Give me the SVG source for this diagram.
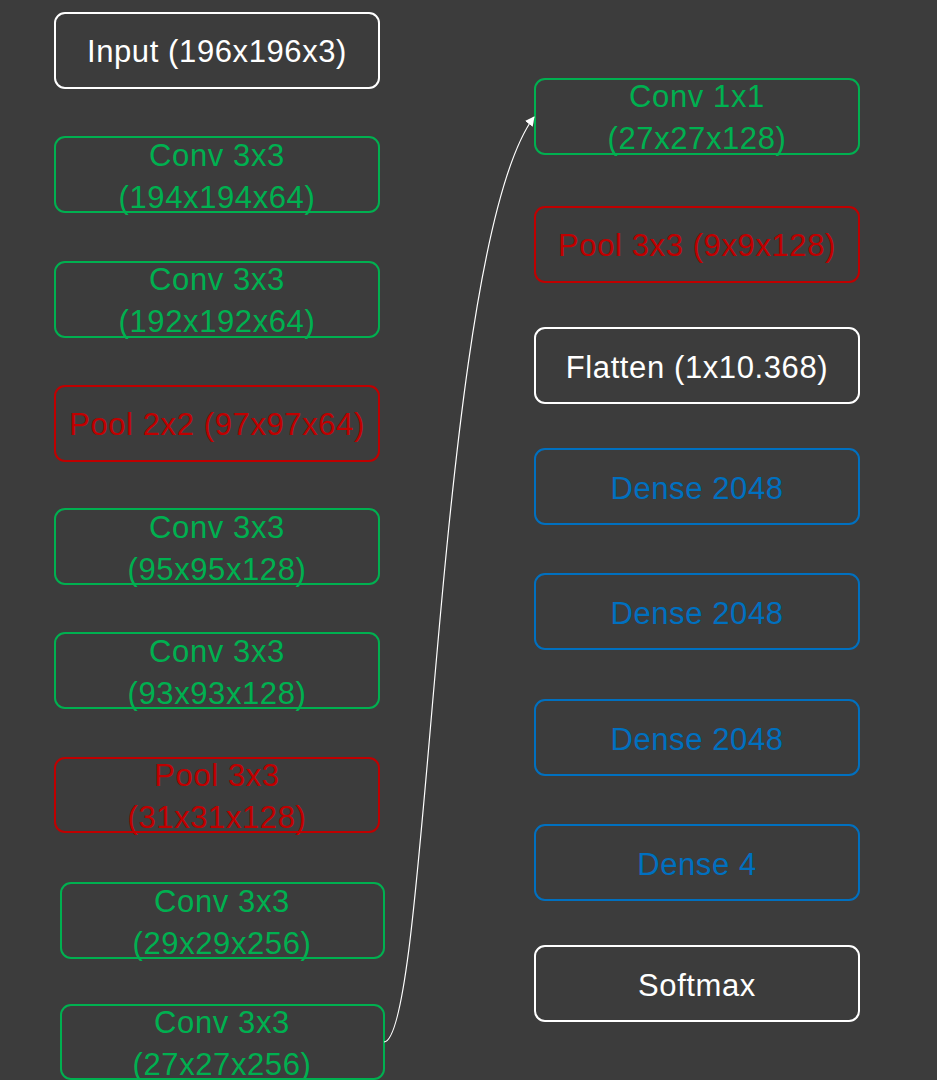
<svg xmlns="http://www.w3.org/2000/svg" width="937" height="1080" viewBox="0 0 937 1080">
<style>
.box{fill:none;stroke-width:2}
.g{stroke:#00b050}.r{stroke:#c00000}.b{stroke:#0070c0}.w{stroke:#ffffff}
text{font-family:"Liberation Sans",Arial,sans-serif;font-size:31px;letter-spacing:0.6px;text-anchor:middle}
.tg{fill:#00b050}.tr{fill:#c00000}.tb{fill:#0070c0}.tw{fill:#ffffff}
</style>
<defs>
<marker id="arr" viewBox="0 0 10 10" refX="9" refY="5" markerWidth="8" markerHeight="8" orient="auto" markerUnits="strokeWidth">
<path d="M0,0 L10,5 L0,10 z" fill="#ffffff"/>
</marker>
</defs>
<rect width="937" height="1080" fill="#3c3c3c"/>
<g id="n1"><rect class="box w" x="55" y="13" width="324" height="75" rx="10"/><text class="tw" x="217" y="62">Input (196x196x3)</text></g>
<g id="n2"><rect class="box g" x="55" y="137" width="324" height="75" rx="10"/><text class="tg" x="217" y="166">Conv 3x3</text><text class="tg" x="217" y="208">(194x194x64)</text></g>
<g id="n3"><rect class="box g" x="55" y="262" width="324" height="75" rx="10"/><text class="tg" x="217" y="290">Conv 3x3</text><text class="tg" x="217" y="332">(192x192x64)</text></g>
<g id="n4"><rect class="box r" x="55" y="386" width="324" height="75" rx="10"/><text class="tr" x="217" y="435">Pool 2x2 (97x97x64)</text></g>
<g id="n5"><rect class="box g" x="55" y="509" width="324" height="75" rx="10"/><text class="tg" x="217" y="538">Conv 3x3</text><text class="tg" x="217" y="580">(95x95x128)</text></g>
<g id="n6"><rect class="box g" x="55" y="633" width="324" height="75" rx="10"/><text class="tg" x="217" y="662">Conv 3x3</text><text class="tg" x="217" y="704">(93x93x128)</text></g>
<g id="n7"><rect class="box r" x="55" y="758" width="324" height="74" rx="10"/><text class="tr" x="217" y="786">Pool 3x3</text><text class="tr" x="217" y="828">(31x31x128)</text></g>
<g id="n8"><rect class="box g" x="61" y="883" width="323" height="75" rx="10"/><text class="tg" x="222" y="912">Conv 3x3</text><text class="tg" x="222" y="954">(29x29x256)</text></g>
<g id="n9"><rect class="box g" x="61" y="1005" width="323" height="74" rx="10"/><text class="tg" x="222" y="1033">Conv 3x3</text><text class="tg" x="222" y="1075">(27x27x256)</text></g>
<g id="n10"><rect class="box g" x="535" y="79" width="324" height="75" rx="10"/><text class="tg" x="697" y="107">Conv 1x1</text><text class="tg" x="697" y="149">(27x27x128)</text></g>
<g id="n11"><rect class="box r" x="535" y="207" width="324" height="75" rx="10"/><text class="tr" x="697" y="256">Pool 3x3 (9x9x128)</text></g>
<g id="n12"><rect class="box w" x="535" y="328" width="324" height="75" rx="10"/><text class="tw" x="697" y="378">Flatten (1x10.368)</text></g>
<g id="n13"><rect class="box b" x="535" y="449" width="324" height="75" rx="10"/><text class="tb" x="697" y="499">Dense 2048</text></g>
<g id="n14"><rect class="box b" x="535" y="574" width="324" height="75" rx="10"/><text class="tb" x="697" y="624">Dense 2048</text></g>
<g id="n15"><rect class="box b" x="535" y="700" width="324" height="75" rx="10"/><text class="tb" x="697" y="750">Dense 2048</text></g>
<g id="n16"><rect class="box b" x="535" y="825" width="324" height="75" rx="10"/><text class="tb" x="697" y="875">Dense 4</text></g>
<g id="n17"><rect class="box w" x="535" y="946" width="324" height="75" rx="10"/><text class="tw" x="697" y="996">Softmax</text></g>
<g id="connectors">
<path d="M384,1042 C430,1040 435,250 534,117" fill="none" stroke="#ffffff" stroke-width="1.2" marker-end="url(#arr)"/>
</g>
</svg>
